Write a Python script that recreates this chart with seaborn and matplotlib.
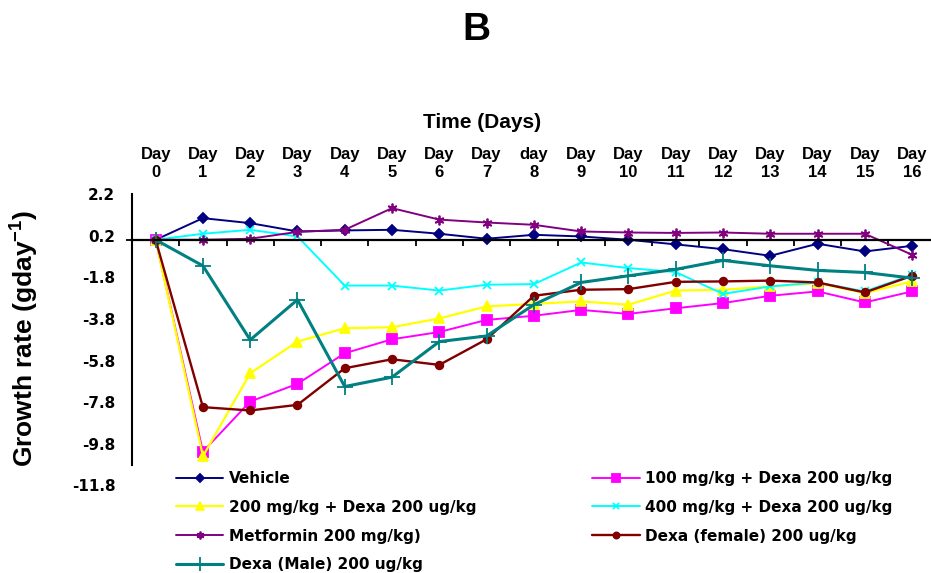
import matplotlib
matplotlib.use("Agg")
import matplotlib.pyplot as plt
import seaborn as sns
import pandas as pd
from matplotlib.ticker import FixedLocator
from matplotlib.font_manager import FontProperties

# ---------------- data ----------------
days = list(range(17))
day_labels = ["Day\n0", "Day\n1", "Day\n2", "Day\n3", "Day\n4", "Day\n5", "Day\n6", "Day\n7",
              "day\n8", "Day\n9", "Day\n10", "Day\n11", "Day\n12", "Day\n13", "Day\n14",
              "Day\n15", "Day\n16"]
vehicle = [0, 1.04, 0.8, 0.4, 0.45, 0.48, 0.29, 0.05, 0.24, 0.16, 0.0, -0.22, -0.45, -0.77, -0.19, -0.56, -0.29]
mg100 = [0, -10.18, -7.77, -6.92, -5.45, -4.78, -4.43, -3.85, -3.65, -3.37, -3.56, -3.29, -3.04, -2.69, -2.48, -3.01, -2.48]
mg200 = [0, -10.4, -6.41, -4.89, -4.25, -4.2, -3.78, -3.2, -3.08, -2.96, -3.12, -2.44, -2.4, -2.24, -2.08, -2.56, -2.0]
mg400 = [0, 0.29, 0.48, 0.16, -2.2, -2.2, -2.44, -2.16, -2.13, -1.09, -1.36, -1.55, -2.6, -2.24, -2.05, -2.48, -1.68]
metformin = [0, 0, 0.05, 0.38, 0.48, 1.52, 0.97, 0.83, 0.72, 0.4, 0.35, 0.33, 0.35, 0.29, 0.29, 0.29, -0.72]
dexa_female = [0, -8.04, -8.2, -7.93, -6.17, -5.74, -6.01, -4.78, -2.69, -2.4, -2.37, -2.02, -2.0, -1.96, -2.05, -2.53, -1.73]
dexa_male = [0, -1.25, -4.81, -2.88, -7.05, -6.6, -4.89, -4.62, -3.12, -2.05, -1.73, -1.42, -0.99, -1.25, -1.47, -1.57, -1.84]

series_names = ["Vehicle", "100 mg/kg + Dexa 200 ug/kg", "200 mg/kg + Dexa 200 ug/kg",
                "400 mg/kg + Dexa 200 ug/kg", "Metformin 200 mg/kg)",
                "Dexa (female) 200 ug/kg", "Dexa (Male) 200 ug/kg"]
series_values = [vehicle, mg100, mg200, mg400, metformin, dexa_female, dexa_male]

ytick_values = [2.2, 0.2, -1.8, -3.8, -5.8, -7.8, -9.8, -11.8]
ytick_labels = ["2.2", "0.2", "-1.8", "-3.8", "-5.8", "-7.8", "-9.8", "-11.8"]

# ---------------- styles ----------------
colors = ["#000080", "#FF00FF", "#FFFF00", "#00FFFF", "#800080", "#800000", "#008080"]
markers = ["D", "s", "^", "x", (6, 2, 0), "o", "+"]
msizes = [5.5, 6.5, 7.5, 6, 7, 5.5, 12]
lwidths = [1.4, 1.4, 1.6, 1.4, 1.4, 1.7, 2.2]

sns.set_theme(style="white")
plt.rcParams["font.family"] = ["Liberation Sans", "DejaVu Sans"]
plt.rcParams["mathtext.fontset"] = "custom"
plt.rcParams["mathtext.rm"] = "Liberation Sans:bold"
plt.rcParams["mathtext.bf"] = "Liberation Sans:bold"
plt.rcParams["mathtext.default"] = "bf"
for k in ["text.color", "axes.labelcolor", "xtick.color", "ytick.color"]:
    plt.rcParams[k] = "black"

W, H = 931, 573
fig = plt.figure(figsize=(W / 100, H / 100), dpi=100)
ax_left, ax_right = 132, 931
ax_top, ax_bot = 194, 485.4
ax = fig.add_axes([ax_left / W, 1 - ax_bot / H, (ax_right - ax_left) / W, (ax_bot - ax_top) / H])

df = pd.DataFrame({
    "day": days * len(series_names),
    "rate": [v for vals in series_values for v in vals],
    "group": [n for n in series_names for _ in days],
})

for name, c, m, ms, lw in zip(series_names, colors, markers, msizes, lwidths):
    sub = df[df["group"] == name]
    sns.lineplot(data=sub, x="day", y="rate", ax=ax, color=c, marker=m, markersize=ms,
                 markeredgecolor=c, markerfacecolor=c, markeredgewidth=1.3,
                 linewidth=lw, label=name, legend=False)

ax.set_xlim(-0.5, 16.4)
ax.set_ylim(-11.8, 2.2)

for s in ["top", "right"]:
    ax.spines[s].set_visible(False)
ax.spines["left"].set_color("black")
ax.spines["left"].set_linewidth(1.5)
ax.spines["left"].set_bounds(-10.8, 2.2)
ax.spines["bottom"].set_position(("data", 0))
ax.spines["bottom"].set_color("black")
ax.spines["bottom"].set_linewidth(1.6)

# x labels on top
ax.set_xticks(days)
ax.set_xticklabels(day_labels, fontsize=12, fontweight="bold", linespacing=1.3)
ax.xaxis.set_minor_locator(FixedLocator([d + 0.5 for d in days[:-1]]))
ax.tick_params(axis="x", which="major", top=True, labeltop=True, bottom=False,
               labelbottom=False, length=0, pad=10)
ax.tick_params(axis="x", which="minor", bottom=True, top=False, direction="out",
               length=4, width=1.3, color="black")
ax.set_xlabel("")

# y ticks
ax.set_yticks(ytick_values)
ax.set_yticklabels(ytick_labels, fontsize=11, fontweight="bold", family="DejaVu Sans")
ax.yaxis.set_minor_locator(FixedLocator([2.2, 0.0]))
ax.tick_params(axis="y", which="major", left=True, length=0, pad=12)
ax.tick_params(axis="y", which="minor", left=True, length=4, width=1.3, color="black")
ax.set_ylabel(r"Growth rate (gday$^{-1}$)", fontsize=19, fontweight="bold")
ax.yaxis.set_label_coords((41 - ax_left) / (ax_right - ax_left), (ax_bot - 338) / (ax_bot - ax_top))

fig.text(482 / W, 1 - 123 / H, "Time (Days)", ha="center", va="center",
         fontsize=15, fontweight="bold")
fig.text(476 / W, 1 - 30 / H, "B", ha="center", va="center",
         fontsize=28, fontweight="bold")

handles, labels = ax.get_legend_handles_labels()
order = [0, 2, 4, 6, 1, 3, 5]
leg = fig.legend([handles[i] for i in order], [labels[i] for i in order], ncol=2,
                 loc="upper left", bbox_to_anchor=(176 / W, 1 - 471 / H),
                 frameon=False, borderpad=0, borderaxespad=0, handlelength=3.1,
                 handletextpad=0.35, columnspacing=7.6, labelspacing=0.9,
                 prop=FontProperties(family="DejaVu Sans", weight="bold", size=11))
for h in leg.legend_handles:
    h.set_markersize(h.get_markersize() * 0.8)

fig.savefig("out.png", dpi=100)
